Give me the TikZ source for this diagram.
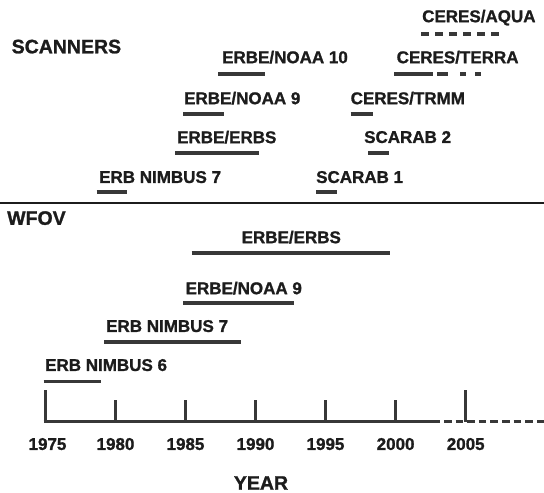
\documentclass[tikz,border=0pt]{standalone}
\usepackage{fontspec}
\setmainfont{Liberation Sans}[BoldFeatures={FakeBold=1.2}]
\definecolor{ink}{HTML}{1C1C1C}
\definecolor{barc}{HTML}{383838}
\begin{document}
\begin{tikzpicture}[x=1pt,y=-1pt,
  lab/.style={anchor=west, inner sep=0pt, text depth=0pt, text=ink,
    font=\fontsize{17}{17}\selectfont\bfseries},
  head/.style={anchor=west, inner sep=0pt, text depth=0pt, text=ink,
    font=\fontsize{19.5}{19.5}\selectfont\bfseries},
  yearlab/.style={anchor=center, inner sep=0pt, text depth=0pt, text=ink,
    font=\fontsize{17}{17}\selectfont\bfseries},
  barline/.style={line width=3.6pt, draw=barc},
  dashbar/.style={line width=3.6pt, draw=barc, dash pattern=on 8pt off 6pt},
  tickline/.style={line width=3pt, draw=barc},
  sepline/.style={line width=1.2pt, draw=ink}]
\useasboundingbox (0,0) rectangle (544,493);

% ---------- SCANNERS ----------
\node[head] (scan) at (11.5,46.5) {SCANNERS};

\node[lab] (aqua) at (422,16) {CERES/AQUA};
\draw[dashbar] (421,34) -- (499,34);

\node[lab] (noaa10) at (222,57) {ERBE/NOAA 10};
\draw[barline] (218,74) -- (265,74);

\node[lab] (terra) at (396.5,57) {CERES/TERRA};
\draw[barline] (394,74) -- (433,74);
\draw[barline] (437,74) -- (448,74);
\draw[barline] (460,74) -- (466,74);
\draw[barline] (475,74) -- (481,74);

\node[lab] (snoaa9) at (184,98) {ERBE/NOAA 9};
\draw[barline] (183,114) -- (224,114);

\node[lab] (trmm) at (350.5,98) {CERES/TRMM};
\draw[barline] (350.5,114) -- (373,114);

\node[lab] (serbs) at (177,137) {ERBE/ERBS};
\draw[barline] (175,153) -- (258.5,153);

\node[lab] (scarab2) at (364,137) {SCARAB 2};
\draw[barline] (368,153) -- (389,153);

\node[lab] (snim7) at (99,177) {ERB NIMBUS 7};
\draw[barline] (96.5,192) -- (126.5,192);

\node[lab] (scarab1) at (316,177) {SCARAB 1};
\draw[barline] (316,192) -- (336.5,192);

% ---------- separator ----------
\draw[sepline] (0,203) -- (544,203);

% ---------- WFOV ----------
\node[head] (wfov) at (7,218) {WFOV};

\node[lab] (werbs) at (241.5,237) {ERBE/ERBS};
\draw[barline] (191.5,253) -- (390,253);

\node[lab] (wnoaa9) at (185.5,288) {ERBE/NOAA 9};
\draw[barline] (183,303) -- (294,303);

\node[lab] (wnim7) at (106,326) {ERB NIMBUS 7};
\draw[barline] (104,342) -- (241,342);

\node[lab] (wnim6) at (45,365) {ERB NIMBUS 6};
\draw[barline] (43.5,381.5) -- (100.5,381.5);

% ---------- axis ----------
\draw[barline] (43.5,421.5) -- (440,421.5);
\draw[barline, dash pattern=on 7.5pt off 4.1pt] (444,421.5) -- (544,421.5);
\draw[tickline] (45.1,421.5) -- (45.1,389.5);
\draw[tickline] (115.2,421.5) -- (115.2,399.5);
\draw[tickline] (185.3,421.5) -- (185.3,399.5);
\draw[tickline] (255.4,421.5) -- (255.4,399.5);
\draw[tickline] (325.5,421.5) -- (325.5,399.5);
\draw[tickline] (395.6,421.5) -- (395.6,399.5);
\draw[tickline] (465.7,421.5) -- (465.7,389.5);

\node[yearlab] (y1975) at (47.5,444) {1975};
\node[yearlab] (y1980) at (115.5,444) {1980};
\node[yearlab] (y1985) at (185.5,444) {1985};
\node[yearlab] (y1990) at (255.5,444) {1990};
\node[yearlab] (y1995) at (325.5,444) {1995};
\node[yearlab] (y2000) at (395.6,444) {2000};
\node[yearlab] (y2005) at (465.7,444) {2005};

\node[head, anchor=center] (year) at (261,483) {YEAR};
\end{tikzpicture}
\end{document}
